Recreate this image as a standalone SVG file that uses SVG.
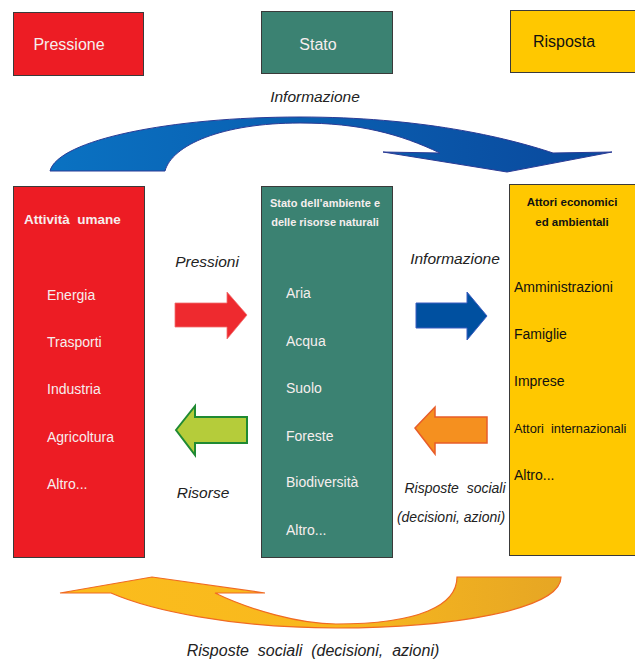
<svg xmlns="http://www.w3.org/2000/svg" width="635" height="662" viewBox="0 0 635 662">
  <defs>
    <style>
      text { font-family: "Liberation Sans", Arial, sans-serif; white-space: pre; }
      .box { stroke: #3a3a3a; stroke-width: 1; }
      .red { fill: #ed1c24; }
      .teal { fill: #3b8272; }
      .yellow { fill: #ffc800; }
      .hdr { font-size: 16px; }
      .lbl { font-size: 15.5px; font-style: italic; fill: #222; }
      .small { font-size: 14px; }
      .item { font-size: 14px; }
      .item-s { font-size: 12.8px; }
      .ttl { font-size: 11.5px; font-weight: bold; }
      .ttl-s { font-size: 11px; }
      .ttl-l { font-size: 13.5px; }
      .light { fill: #f6eeee; }
      .dark { fill: #111; }
    </style>
    <linearGradient id="blueArc" x1="0" y1="0" x2="1" y2="0">
      <stop offset="0" stop-color="#0a72c2"/>
      <stop offset="1" stop-color="#0a489c"/>
    </linearGradient>
    <linearGradient id="yellowArc" x1="0" y1="0" x2="1" y2="0">
      <stop offset="0" stop-color="#fbbd1c"/>
      <stop offset="0.55" stop-color="#f8b81e"/>
      <stop offset="1" stop-color="#e6a624"/>
    </linearGradient>
  </defs>

  <!-- header boxes -->
  <g id="pressione">
    <rect class="box red" x="13.5" y="12.5" width="130" height="63"/>
    <text class="hdr light" x="69" y="50" text-anchor="middle">Pressione</text>
  </g>
  <g id="stato">
    <rect class="box teal" x="261.5" y="11.5" width="131" height="62"/>
    <text class="hdr light" x="318" y="50" text-anchor="middle">Stato</text>
  </g>
  <g id="risposta">
    <rect class="box yellow" x="510.5" y="10.5" width="130" height="62"/>
    <text class="hdr dark" x="564" y="47" text-anchor="middle">Risposta</text>
  </g>

  <!-- main columns -->
  <g id="attivita">
    <rect class="box red" x="13.5" y="186.5" width="131" height="371"/>
    <text class="ttl ttl-l light" x="24" y="224">Attività  umane</text>
    <text class="item light" x="47" y="300">Energia</text>
    <text class="item light" x="47" y="347">Trasporti</text>
    <text class="item light" x="47" y="394">Industria</text>
    <text class="item light" x="47" y="442">Agricoltura</text>
    <text class="item light" x="47" y="489">Altro...</text>
  </g>
  <g id="ambiente">
    <rect class="box teal" x="261.5" y="186.5" width="131" height="371"/>
    <text class="ttl ttl-s light" x="325" y="207" text-anchor="middle">Stato dell’ambiente e</text>
    <text class="ttl ttl-s light" x="325" y="226" text-anchor="middle">delle risorse naturali</text>
    <text class="item light" x="286" y="298">Aria</text>
    <text class="item light" x="286" y="346">Acqua</text>
    <text class="item light" x="286" y="393">Suolo</text>
    <text class="item light" x="286" y="441">Foreste</text>
    <text class="item light" x="286" y="487">Biodiversità</text>
    <text class="item light" x="286" y="535">Altro...</text>
  </g>
  <g id="attori">
    <rect class="box yellow" x="509.5" y="184.5" width="130" height="371"/>
    <text class="ttl dark" x="572" y="206" text-anchor="middle">Attori economici</text>
    <text class="ttl dark" x="572" y="226" text-anchor="middle">ed ambientali</text>
    <text class="item dark" x="514" y="292">Amministrazioni</text>
    <text class="item dark" x="514" y="339">Famiglie</text>
    <text class="item dark" x="514" y="386">Imprese</text>
    <text class="item-s dark" x="514" y="433">Attori  internazionali</text>
    <text class="item dark" x="514" y="480">Altro...</text>
  </g>

  <!-- connectors -->
  <g id="connectors">
    <!-- upper curved arrow -->
    <path d="M50,171 C58,140 170,117 300,117 C420,117 505,137 553,153 L612,152 L507,172 L383,152 L440,153 C400,134 360,123 300,123 C222,123 172,145 165,171 Z"
          fill="url(#blueArc)" stroke="#2b3b95" stroke-width="1"/>
    <text class="lbl" x="315" y="102" text-anchor="middle">Informazione</text>

    <!-- Pressioni -->
    <polygon points="175,303 227,303 227,292 247,315 227,339 227,327 175,327" fill="#ee2a2f" stroke="#f07070" stroke-width="0.8"/>
    <text class="lbl" x="207" y="267" text-anchor="middle">Pressioni</text>

    <!-- Risorse -->
    <polygon points="176,430 195,406 195,417 247,417 247,443 195,443 195,455" fill="#b5cc3a" stroke="#1f8a32" stroke-width="2"/>
    <text class="lbl" x="203" y="498" text-anchor="middle">Risorse</text>

    <!-- Informazione -->
    <polygon points="416,303 467,303 467,292 487,316 467,340 467,328 416,328" fill="#0050a0" stroke="#3a5cc0" stroke-width="1"/>
    <text class="lbl" x="455" y="264" text-anchor="middle">Informazione</text>

    <!-- Risposte sociali -->
    <polygon points="415,428 435,407 435,417 487,417 487,443 435,443 435,454" fill="#f5901f" stroke="#e85c28" stroke-width="1.5"/>
    <text class="lbl small" x="455" y="493" text-anchor="middle">Risposte  sociali</text>
    <text class="lbl small" x="451" y="522" text-anchor="middle">(decisioni, azioni)</text>

    <!-- lower curved arrow -->
    <path d="M561,577 C561,610 450,628 336,628 C232,628 150,610 111,593 L60,593 L152,577 L265,593 L215,593 C250,610 300,624 336,624 C420,624 457,605 457,577 Z"
          fill="url(#yellowArc)" stroke="#f06a22" stroke-width="1.2"/>
    <text class="lbl" x="313" y="656" text-anchor="middle" style="font-size:16px">Risposte  sociali  (decisioni,  azioni)</text>
  </g>
</svg>
